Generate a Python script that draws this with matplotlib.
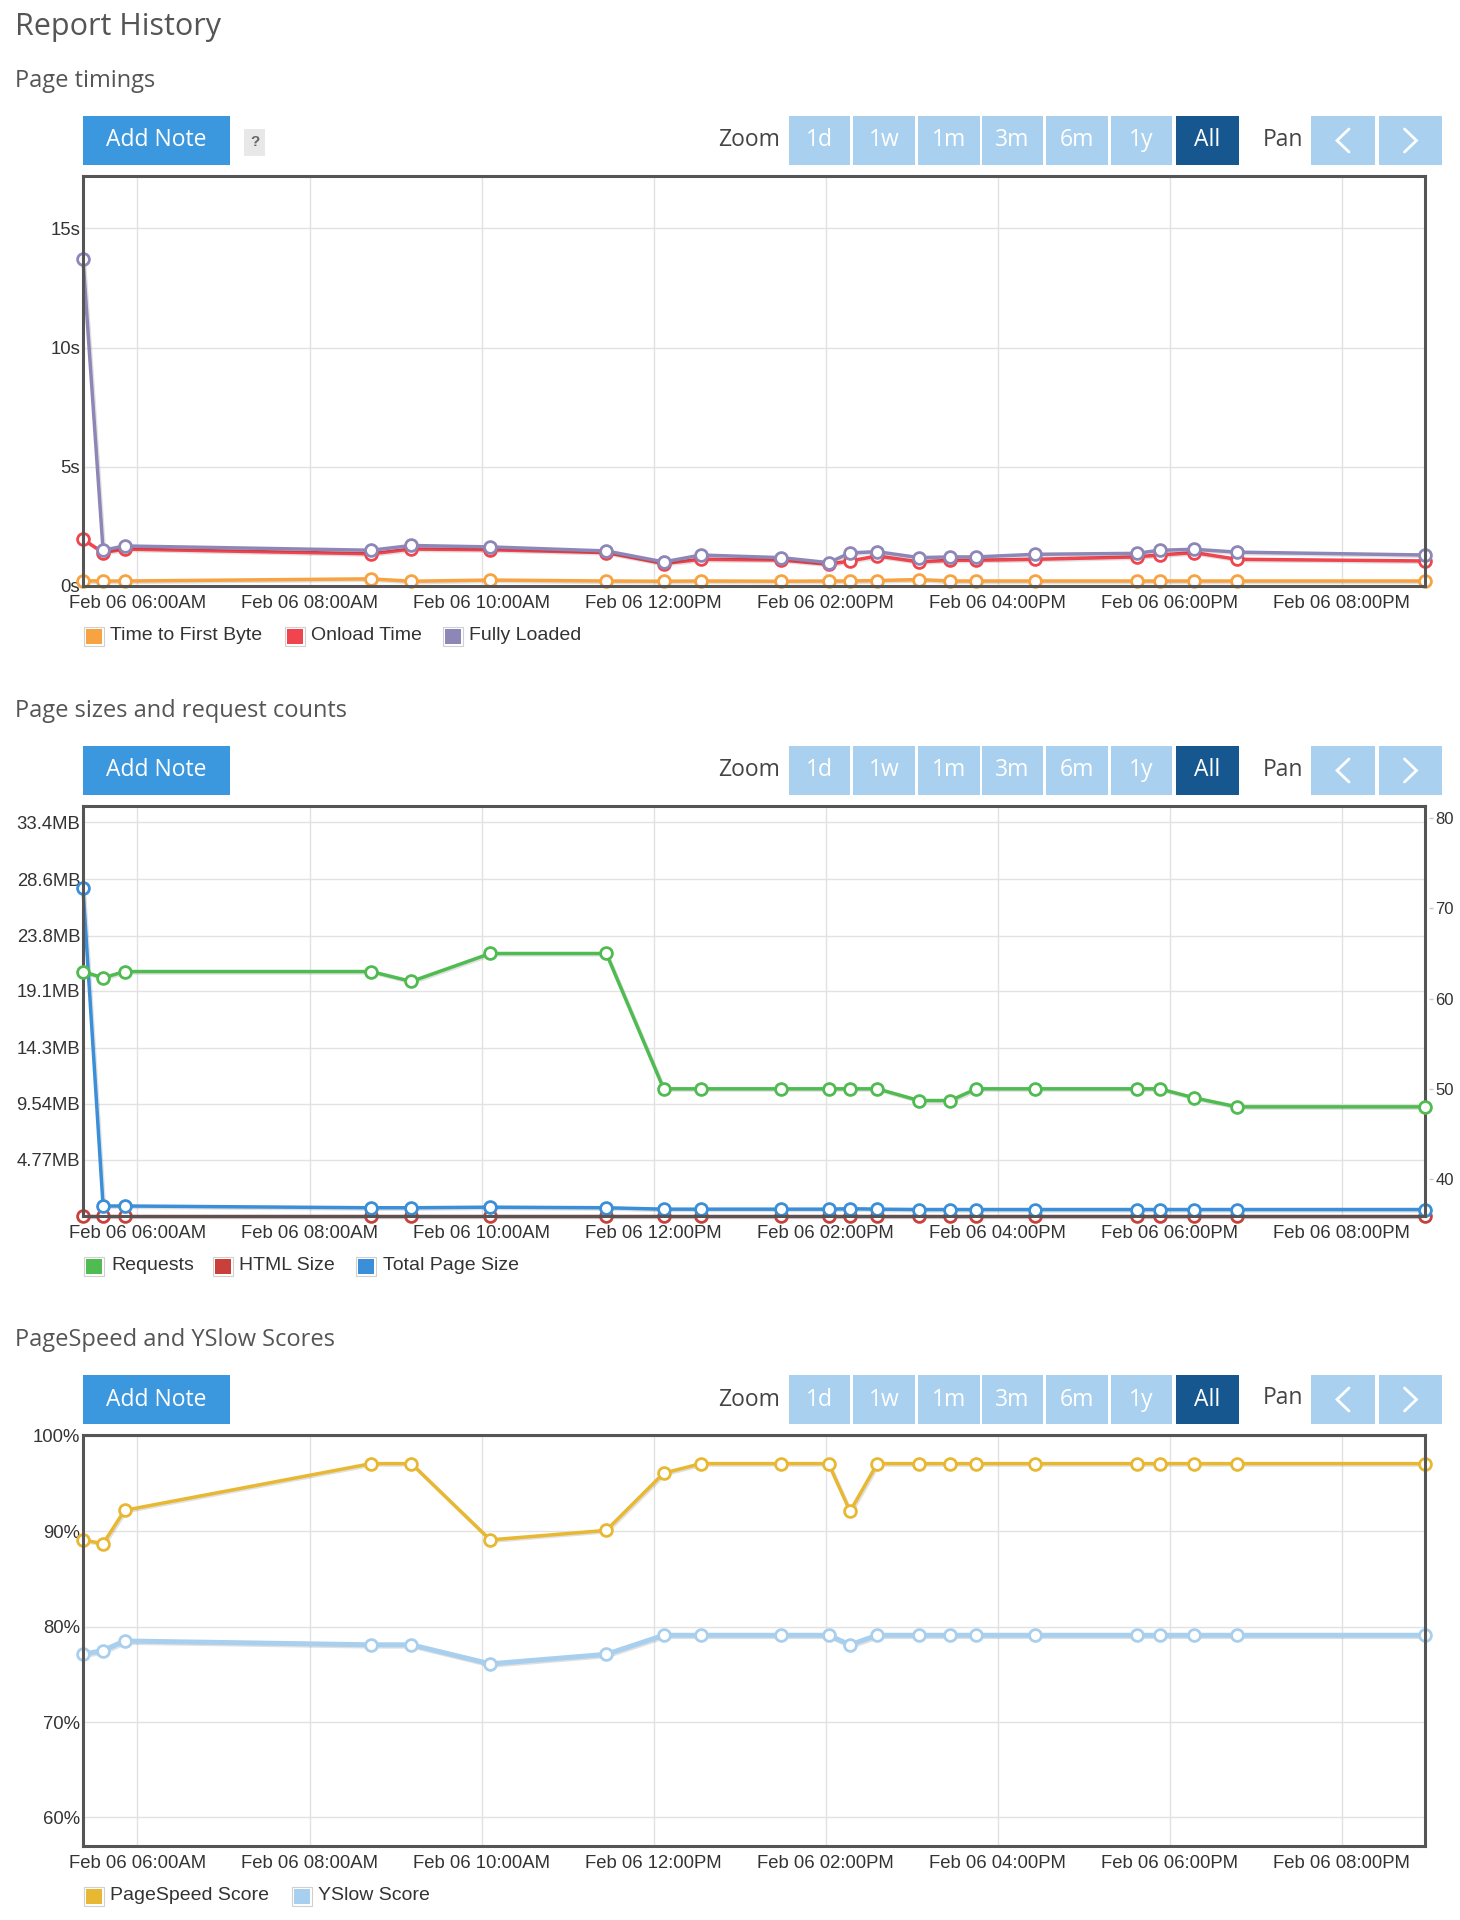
import matplotlib
matplotlib.use('Agg')
import matplotlib.pyplot as plt
import matplotlib.dates as mdates
import matplotlib.patheffects as pe
from matplotlib.patches import Rectangle
from matplotlib.lines import Line2D
from matplotlib.ticker import FixedLocator, FuncFormatter
from datetime import datetime

# ---------------- data ----------------
times = ["05:22", "05:36", "05:51", "08:43", "09:11", "10:06", "11:27", "12:07",
         "12:33", "13:29", "14:02", "14:17", "14:36", "15:05", "15:27", "15:45",
         "16:26", "17:37", "17:53", "18:17", "18:47", "20:58"]

ttfb = [0.22, 0.21, 0.21, 0.30, 0.20, 0.25, 0.21, 0.20, 0.21, 0.20, 0.21,
        0.21, 0.23, 0.27, 0.21, 0.21, 0.21, 0.21, 0.21, 0.21, 0.21, 0.21]
onload = [1.96, 1.40, 1.55, 1.35, 1.55, 1.52, 1.40, 0.94, 1.12, 1.09, 0.91,
          1.05, 1.26, 1.01, 1.08, 1.08, 1.12, 1.22, 1.30, 1.40, 1.12, 1.05]
fully_loaded = [13.7, 1.50, 1.68, 1.50, 1.70, 1.64, 1.47, 1.01, 1.30, 1.19, 0.98,
                1.39, 1.44, 1.19, 1.22, 1.22, 1.33, 1.37, 1.50, 1.54, 1.42, 1.30]

requests = [63.0, 62.3, 63.0, 63.0, 61.9, 65.0, 65.0, 50.0, 50.0, 50.0, 50.0,
            50.0, 50.0, 48.7, 48.7, 50.0, 50.0, 50.0, 50.0, 49.0, 48.0, 48.0]
html_size_mb = [0.04, 0.04, 0.04, 0.04, 0.04, 0.04, 0.04, 0.04, 0.04, 0.04, 0.04,
                0.04, 0.04, 0.04, 0.04, 0.04, 0.04, 0.04, 0.04, 0.04, 0.04, 0.04]
total_size_mb = [27.8, 0.85, 0.85, 0.70, 0.70, 0.75, 0.70, 0.58, 0.58, 0.58, 0.58,
                 0.62, 0.58, 0.55, 0.55, 0.55, 0.55, 0.55, 0.55, 0.55, 0.55, 0.55]

pagespeed = [89.1, 88.7, 92.2, 97.1, 97.1, 89.1, 90.1, 96.1, 97.1, 97.1, 97.1,
             92.1, 97.1, 97.1, 97.1, 97.1, 97.1, 97.1, 97.1, 97.1, 97.1, 97.1]
yslow = [77.1, 77.5, 78.5, 78.1, 78.1, 76.1, 77.1, 79.1, 79.1, 79.1, 79.1,
         78.1, 79.1, 79.1, 79.1, 79.1, 79.1, 79.1, 79.1, 79.1, 79.1, 79.1]

timing_ticks = [0, 5, 10, 15]
size_ticks_mb = [4.77, 9.54, 14.3, 19.1, 23.8, 28.6, 33.4]
request_ticks = [40, 50, 60, 70, 80]
score_ticks = [60, 70, 80, 90, 100]
zoom_labels = ["1d", "1w", "1m", "3m", "6m", "1y", "All"]

# ---------------- setup ----------------
W, H = 1460, 1920
fig = plt.figure(figsize=(W / 100, H / 100), dpi=100)
fig.patch.set_facecolor('white')

TITLE_FONT = ['Open Sans', 'DejaVu Sans']
AX_FONT = ['Liberation Sans', 'DejaVu Sans']

x_dates = [datetime(2014, 2, 6, int(t[:2]), int(t[3:])) for t in times]
x = mdates.date2num(x_dates)


def fx(px):
    return px / W


def fy(py):
    return 1 - py / H


def rect(x0, y0, x1, y1, fc, ec='none', lw=0, z=1):
    fig.patches.append(Rectangle((fx(x0), fy(y1)), (x1 - x0) / W, (y1 - y0) / H,
                                 transform=fig.transFigure, facecolor=fc,
                                 edgecolor=ec, linewidth=lw, zorder=z))


def ftext(px, py, s, **kw):
    fig.text(fx(px), fy(py), s, **kw)


def chevron(cx, cy, direction):
    w, h = 6, 11.5
    if direction == '<':
        xs = [cx + w, cx - w, cx + w]
    else:
        xs = [cx - w, cx + w, cx - w]
    ys = [cy - h, cy, cy + h]
    fig.lines.append(Line2D([fx(v) for v in xs], [fy(v) for v in ys],
                            transform=fig.transFigure, color='white', lw=2.0,
                            solid_capstyle='round', solid_joinstyle='miter'))


def header(top, with_help):
    yc = top + 24.5
    rect(83, top, 230, top + 49, '#3c98de')
    ftext(156.5, yc, "Add Note", color='white', fontsize=16.5, family=TITLE_FONT,
          ha='center', va='center')
    if with_help:
        rect(244, top + 13, 265, top + 40, '#e8e8e8')
        ftext(254.5, yc + 1, "?", color='#666666', fontsize=11, family=AX_FONT,
              ha='center', va='center', fontweight='bold')
    ftext(780, yc, "Zoom", color='#444444', fontsize=16.5, family=TITLE_FONT,
          ha='right', va='center')
    bx = [(789, 850), (853, 915), (918, 980), (982, 1043), (1046, 1108),
          (1111, 1172), (1176, 1239)]
    for (a, b), lab in zip(bx, zoom_labels):
        col = '#16578f' if lab == 'All' else '#a9d1ef'
        rect(a, top, b, top + 49, col)
        ftext((a + b) / 2, yc, lab, color='white', fontsize=16.5, family=TITLE_FONT,
              ha='center', va='center')
    ftext(1263, yc - 1, "Pan", color='#444444', fontsize=16.5, family=TITLE_FONT,
          ha='left', va='center')
    rect(1311, top, 1375, top + 49, '#a9d1ef')
    rect(1379, top, 1442, top + 49, '#a9d1ef')
    chevron(1343, yc, '<')
    chevron(1410.5, yc, '>')


def legend(y, items):
    for sx, tx, col, lab in items:
        rect(sx, y - 9.5, sx + 20, y + 9.5, 'white', ec='#d0d0d0', lw=0.8)
        rect(sx + 2, y - 7.5, sx + 18, y + 7.5, col)
        ftext(tx, y, lab, color='#333333', fontsize=14, family=AX_FONT,
              ha='left', va='center')


def make_axes(top, bottom):
    ax = fig.add_axes([fx(83), fy(bottom), (1425 - 83) / W, (bottom - top) / H])
    ax.set_xlim(x[0], x[-1])
    ax.xaxis.set_major_locator(mdates.HourLocator(byhour=range(6, 22, 2)))
    ax.xaxis.set_major_formatter(mdates.DateFormatter('%b %d %I:%M%p'))
    ax.grid(True, color='#e2e2e2', lw=1.0, zorder=0)
    ax.set_axisbelow(True)
    for sp in ax.spines.values():
        sp.set_color('#555555')
        sp.set_linewidth(2.2)
        sp.set_zorder(5)
    ax.tick_params(axis='both', length=0, labelsize=13.3, labelcolor='#333333')
    ax.tick_params(axis='x', pad=6.5)
    ax.tick_params(axis='y', pad=2)
    return ax


def fix_fonts(ax):
    for lab in ax.get_xticklabels() + ax.get_yticklabels():
        lab.set_family(AX_FONT)


shadow = [pe.SimpleLineShadow(offset=(1.0, -1.0), shadow_color='#000000',
                              alpha=0.12, rho=1.0), pe.Normal()]


def series(ax, y, color, lw=2.5, z=3):
    ax.plot(x, y, color=color, lw=lw, clip_on=False, zorder=z,
            solid_joinstyle='round', path_effects=shadow)
    ax.plot(x, y, linestyle='none', marker='o', markersize=8.5,
            markerfacecolor='white', markeredgecolor=color, markeredgewidth=2.0,
            clip_on=False, zorder=z + 0.1)


# ---------------- titles ----------------
ftext(15, 35, "Report History", color='#555555', fontsize=22, family=TITLE_FONT,
      ha='left', va='baseline')

# ---------------- chart 1 ----------------
ftext(15, 87, "Page timings", color='#555555', fontsize=17, family=TITLE_FONT,
      ha='left', va='baseline')
header(116, True)
ax1 = make_axes(176, 586)
ax1.set_ylim(0, 17.2)
ax1.yaxis.set_major_locator(FixedLocator(timing_ticks))
ax1.yaxis.set_major_formatter(FuncFormatter(lambda v, p: f"{int(v)}s"))
fix_fonts(ax1)
series(ax1, ttfb, '#f7a341')
series(ax1, onload, '#f0444f')
series(ax1, fully_loaded, '#8d87b8')
legend(636, [(84, 110, '#f7a341', 'Time to First Byte'),
             (285, 311, '#f0444f', 'Onload Time'),
             (443, 469, '#8d87b8', 'Fully Loaded')])

# ---------------- chart 2 ----------------
ftext(15, 717, "Page sizes and request counts", color='#555555', fontsize=17,
      family=TITLE_FONT, ha='left', va='baseline')
header(746, False)
ax2 = make_axes(806, 1216)
ax2.set_ylim(0, 34.8)
ax2.yaxis.set_major_locator(FixedLocator(size_ticks_mb))
ax2.yaxis.set_major_formatter(FuncFormatter(lambda v, p: f"{v:g}MB"))
fix_fonts(ax2)
series(ax2, html_size_mb, '#c9403b')
series(ax2, total_size_mb, '#3a8fd8')
ax2r = ax2.twinx()
ax2r.set_ylim(35.9, 81.35)
ax2r.set_xlim(x[0], x[-1])
for sp in ax2r.spines.values():
    sp.set_visible(False)
ax2r.spines['right'].set_position(('outward', 3))
ax2r.yaxis.set_major_locator(FixedLocator(request_ticks))
ax2r.yaxis.set_major_formatter(FuncFormatter(lambda v, p: f"{int(v)}"))
ax2r.tick_params(axis='y', length=3, width=1, color='#c8c8c8', pad=1.5,
                 labelsize=12, labelcolor='#333333')
for lab in ax2r.get_yticklabels():
    lab.set_family(AX_FONT)
series(ax2r, requests, '#4fbb50')
legend(1266, [(84, 111, '#4fbb50', 'Requests'),
              (213, 239, '#c9403b', 'HTML Size'),
              (356, 383, '#3a8fd8', 'Total Page Size')])

# ---------------- chart 3 ----------------
ftext(15, 1346, "PageSpeed and YSlow Scores", color='#555555', fontsize=17,
      family=TITLE_FONT, ha='left', va='baseline')
header(1375, False)
ax3 = make_axes(1435, 1846)
ax3.set_ylim(57, 100.1)
ax3.yaxis.set_major_locator(FixedLocator(score_ticks))
ax3.yaxis.set_major_formatter(FuncFormatter(lambda v, p: f"{int(v)}%"))
fix_fonts(ax3)
series(ax3, pagespeed, '#e8b833')
series(ax3, yslow, '#a9cfee', lw=3.6)
legend(1896, [(84, 110, '#e8b833', 'PageSpeed Score'),
              (292, 318, '#a9cfee', 'YSlow Score')])

fig.savefig('out.png', dpi=100, facecolor='white')
